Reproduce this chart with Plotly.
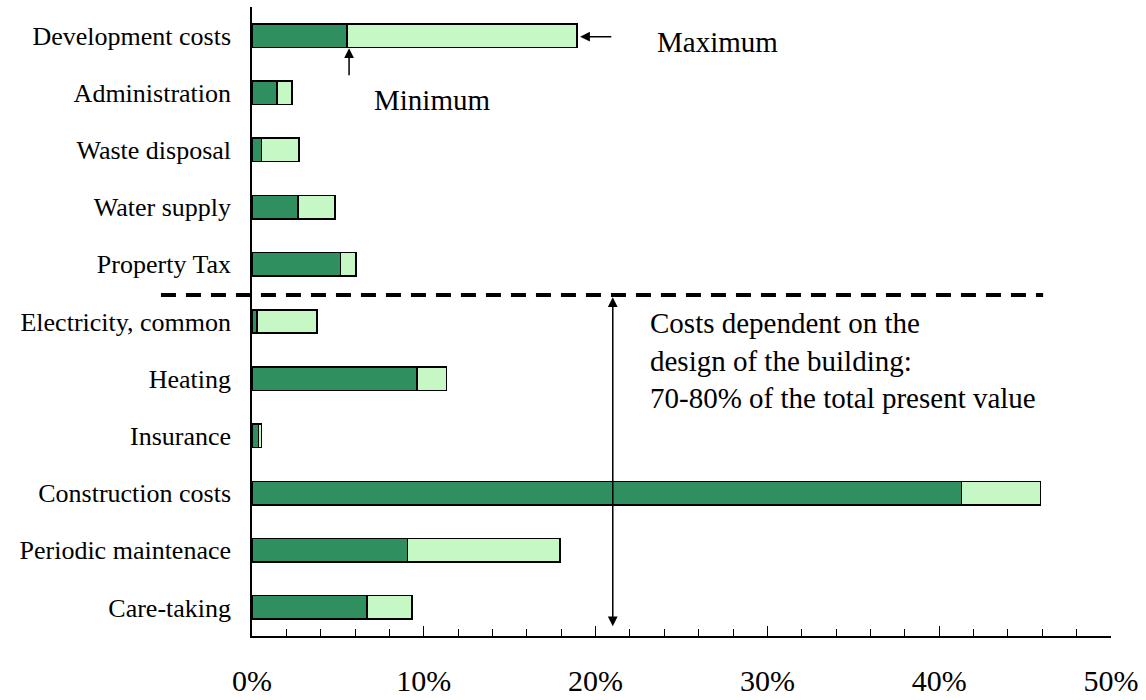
import plotly.graph_objects as go

# ----------------------------
# DATA (percent of total present value)
# ----------------------------

categories = [
    "Development costs",
    "Administration",
    "Waste disposal",
    "Water supply",
    "Property Tax",
    "Electricity, common",
    "Heating",
    "Insurance",
    "Construction costs",
    "Periodic maintenace",
    "Care-taking",
]

minimum = [5.54, 1.45, 0.54, 2.68, 5.16, 0.29, 9.6, 0.37, 41.3, 9.05, 6.7]
maximum = [18.91, 2.33, 2.74, 4.83, 6.05, 3.78, 11.33, 0.56, 45.9, 17.93, 9.3]

x_ticks = [0, 10, 20, 30, 40, 50]
x_tick_labels = ["0%", "10%", "20%", "30%", "40%", "50%"]

span = [hi - lo for lo, hi in zip(minimum, maximum)]

FONT = "Liberation Serif, Times New Roman, serif"

fig = go.Figure()

fig.add_trace(go.Bar(
    y=categories,
    x=minimum,
    orientation='h',
    name="Minimum",
    width=0.41,
    marker=dict(color='#2f8f5f', line=dict(color='black', width=1.5)),
))

fig.add_trace(go.Bar(
    y=categories,
    x=span,
    orientation='h',
    name="Maximum",
    width=0.41,
    marker=dict(color='#c6f8c6', line=dict(color='black', width=1.5)),
))

# dashed separator between the two cost groups
fig.add_shape(
    type='line',
    xref='paper', yref='y',
    x0=-0.106, x1=0.921, y0=4.535, y1=4.535,
    line=dict(color='black', width=4, dash='15px,10px'),
)

# double-headed arrow for the design-dependent costs
fig.add_annotation(
    x=21.0, y=10.33, ax=21.0, ay=4.55,
    xref='x', yref='y', axref='x', ayref='y',
    text='', showarrow=True,
    arrowhead=2, startarrowhead=2, arrowside='end+start',
    arrowsize=1.3, startarrowsize=1.3, arrowwidth=1.5,
    standoff=0, startstandoff=0, arrowcolor='black',
)

# Maximum arrow
fig.add_annotation(
    x=19.1, y=0.02, ax=21.0, ay=0.02,
    xref='x', yref='y', axref='x', ayref='y',
    text='', showarrow=True,
    arrowhead=2, arrowsize=1.3, arrowwidth=1.5,
    standoff=0, arrowcolor='black',
)

# Minimum arrow
fig.add_annotation(
    x=5.65, y=0.22, ax=5.65, ay=0.72,
    xref='x', yref='y', axref='x', ayref='y',
    text='', showarrow=True,
    arrowhead=2, arrowsize=1.3, arrowwidth=1.5,
    standoff=0, arrowcolor='black',
)

fig.add_annotation(
    x=27.07, y=0.11, xref='x', yref='y',
    text="Maximum", showarrow=False,
    font=dict(family=FONT, size=29, color='black'),
)

fig.add_annotation(
    x=10.47, y=1.13, xref='x', yref='y',
    text="Minimum", showarrow=False,
    font=dict(family=FONT, size=29, color='black'),
)

fig.add_annotation(
    x=23.07, y=5.69, xref='x', yref='y',
    xanchor='left', yanchor='middle', align='left',
    text="Costs dependent on the<br>design of the building:<br>70-80% of the total present value",
    showarrow=False,
    font=dict(family=FONT, size=29, color='black'),
)

fig.update_layout(
    width=1146,
    height=700,
    barmode='stack',
    showlegend=False,
    plot_bgcolor='white',
    paper_bgcolor='white',
    margin=dict(l=252, r=35, t=7, b=64),
    font=dict(family=FONT, color='black'),
    xaxis=dict(
        range=[0, 50],
        tickvals=x_ticks,
        ticktext=x_tick_labels,
        ticks='inside',
        ticklen=10,
        tickcolor='black',
        tickwidth=1,
        minor=dict(dtick=2, ticks='inside', ticklen=7, tickcolor='black', tickwidth=1),
        showline=True,
        linecolor='black',
        linewidth=1.5,
        showgrid=False,
        zeroline=False,
        automargin=False,
        tickfont=dict(family=FONT, size=30, color='black'),
        ticklabelstandoff=17,
    ),
    yaxis=dict(
        categoryorder='array',
        categoryarray=categories,
        range=[10.5, -0.5],
        showline=True,
        linecolor='black',
        linewidth=1.5,
        showgrid=False,
        zeroline=False,
        automargin=False,
        ticks='',
        tickfont=dict(family=FONT, size=26, color='black'),
        ticklabelstandoff=14,
    ),
)

fig.write_html(
    "out.html",
    config={"displayModeBar": False},
    post_script="document.body.style.margin = '0';",
)
